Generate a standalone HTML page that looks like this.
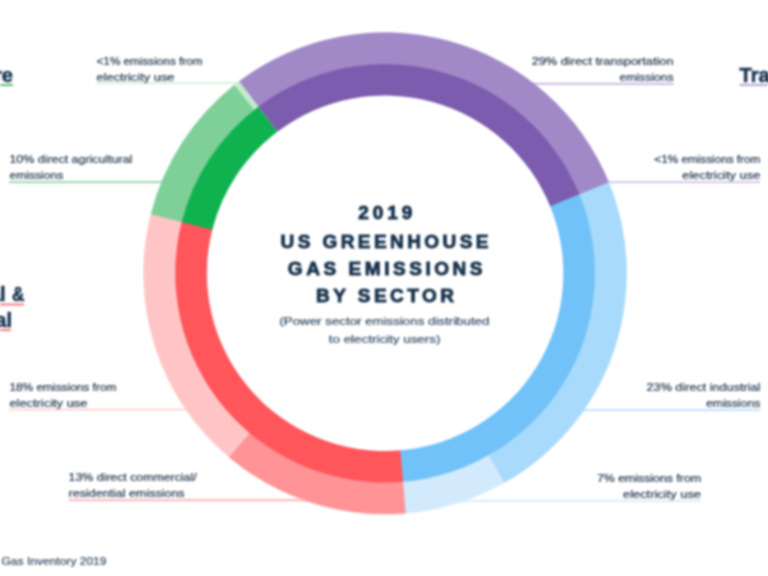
<!DOCTYPE html>
<html lang="en"><head><meta charset="utf-8"><title>2019 US Greenhouse Gas Emissions by Sector</title>
<style>
html,body{margin:0;padding:0;background:#fff;}
body{width:768px;height:576px;overflow:hidden;}
svg{display:block;font-family:"Liberation Sans",sans-serif;}
.b1{filter:blur(0.8px);}.b2{filter:blur(0.8px);}.b3{filter:blur(0.8px);}
</style></head><body>
<svg width="768" height="576" viewBox="0 0 768 576">
<rect width="768" height="576" fill="#fff"/>
<g id="leaders" class="b1">
<line x1="96" y1="83.2" x2="241" y2="83.2" stroke="#BFE8C8" stroke-width="1.2"/>
<line x1="9" y1="182.2" x2="164" y2="182.2" stroke="#5FC57F" stroke-width="1.2"/>
<line x1="531" y1="83.8" x2="673.5" y2="83.8" stroke="#CDBFE7" stroke-width="2.2"/>
<line x1="607" y1="182.2" x2="760.3" y2="182.2" stroke="#BBA9DD" stroke-width="1.2"/>
<line x1="581" y1="410" x2="760.3" y2="410" stroke="#BFE0FA" stroke-width="1.8"/>
<line x1="459" y1="500.8" x2="701" y2="500.8" stroke="#D3E9FB" stroke-width="1.8"/>
<line x1="9" y1="409.7" x2="189" y2="409.7" stroke="#FFBFC1" stroke-width="1.2"/>
<line x1="68.6" y1="500.1" x2="309" y2="500.1" stroke="#FF8A8D" stroke-width="1.2"/>
<line x1="0" y1="85" x2="13" y2="85" stroke="#3FBA66" stroke-width="1.8"/>
<line x1="739.6" y1="85" x2="768" y2="85" stroke="#B09BD6" stroke-width="1.8"/>
<line x1="0" y1="304.5" x2="24" y2="304.5" stroke="#FE6A6F" stroke-width="1.8"/>
<line x1="0" y1="330" x2="11" y2="330" stroke="#FE6A6F" stroke-width="1.8"/>
</g>
<g class="b2"><g id="donut" transform="translate(385.1 0) scale(1.003 1) translate(-385.1 0)">
<path d="M239.39 81.34A241.0 241.0 0 0 1 608.63 183.21L578.67 195.29A208.7 208.7 0 0 0 258.92 107.06Z" fill="#A189C8"/>
<path d="M608.23 182.24A241.0 241.0 0 0 1 503.22 483.37L487.39 455.21A208.7 208.7 0 0 0 578.33 194.44Z" fill="#A8DAFB"/>
<path d="M504.14 482.85A241.0 241.0 0 0 1 404.64 513.51L402.02 481.31A208.7 208.7 0 0 0 488.19 454.76Z" fill="#D2EAFC"/>
<path d="M405.69 513.42A241.0 241.0 0 0 1 228.74 456.69L249.70 432.11A208.7 208.7 0 0 0 402.93 481.24Z" fill="#FF9396"/>
<path d="M229.54 457.37A241.0 241.0 0 0 1 151.72 213.16L183.00 221.22A208.7 208.7 0 0 0 250.39 432.70Z" fill="#FFC5C6"/>
<path d="M151.46 214.18A241.0 241.0 0 0 1 235.57 84.30L255.61 109.63A208.7 208.7 0 0 0 182.78 222.10Z" fill="#7FCF98"/>
<path d="M234.75 84.95A241.0 241.0 0 0 1 239.39 81.34L258.92 107.06A208.7 208.7 0 0 0 254.90 110.20Z" fill="#C3ECCB"/>
<path d="M258.62 106.67A209.2 209.2 0 0 1 579.14 195.10L549.92 206.88A177.7 177.7 0 0 0 277.66 131.76Z" fill="#7C5CAE"/>
<path d="M578.79 194.26A209.2 209.2 0 0 1 402.06 481.81L399.51 450.42A177.7 177.7 0 0 0 549.63 206.16Z" fill="#70C2F8"/>
<path d="M402.97 481.74A209.2 209.2 0 0 1 182.52 221.10L213.02 228.96A177.7 177.7 0 0 0 400.28 450.35Z" fill="#FE565B"/>
<path d="M182.29 221.98A209.2 209.2 0 0 1 258.62 106.67L277.66 131.76A177.7 177.7 0 0 0 212.83 229.71Z" fill="#0FB24E"/>
</g></g>
<g id="labels" class="b3">
<text x="96.5" y="64.6" text-anchor="start" font-size="10" font-weight="normal" fill="#1B3148" textLength="106" lengthAdjust="spacingAndGlyphs" stroke="#1B3148" stroke-width="0.2">&lt;1% emissions from</text>
<text x="96.5" y="80.6" text-anchor="start" font-size="10" font-weight="normal" fill="#1B3148" textLength="78" lengthAdjust="spacingAndGlyphs" stroke="#1B3148" stroke-width="0.2">electricity use</text>
<text x="9.4" y="163.4" text-anchor="start" font-size="10" font-weight="normal" fill="#1B3148" textLength="123" lengthAdjust="spacingAndGlyphs" stroke="#1B3148" stroke-width="0.2">10% direct agricultural</text>
<text x="9.4" y="179.4" text-anchor="start" font-size="10" font-weight="normal" fill="#1B3148" textLength="54" lengthAdjust="spacingAndGlyphs" stroke="#1B3148" stroke-width="0.2">emissions</text>
<text x="673.5" y="65.3" text-anchor="end" font-size="10" font-weight="normal" fill="#1B3148" textLength="141.8" lengthAdjust="spacingAndGlyphs" stroke="#1B3148" stroke-width="0.2">29% direct transportation</text>
<text x="673.5" y="81.4" text-anchor="end" font-size="10" font-weight="normal" fill="#1B3148" textLength="54" lengthAdjust="spacingAndGlyphs" stroke="#1B3148" stroke-width="0.2">emissions</text>
<text x="760.3" y="163.2" text-anchor="end" font-size="10" font-weight="normal" fill="#1B3148" textLength="106" lengthAdjust="spacingAndGlyphs" stroke="#1B3148" stroke-width="0.2">&lt;1% emissions from</text>
<text x="760.3" y="179.4" text-anchor="end" font-size="10" font-weight="normal" fill="#1B3148" textLength="78" lengthAdjust="spacingAndGlyphs" stroke="#1B3148" stroke-width="0.2">electricity use</text>
<text x="760.3" y="390.5" text-anchor="end" font-size="10" font-weight="normal" fill="#1B3148" textLength="113.7" lengthAdjust="spacingAndGlyphs" stroke="#1B3148" stroke-width="0.2">23% direct industrial</text>
<text x="760.3" y="406.9" text-anchor="end" font-size="10" font-weight="normal" fill="#1B3148" textLength="54" lengthAdjust="spacingAndGlyphs" stroke="#1B3148" stroke-width="0.2">emissions</text>
<text x="701" y="481.5" text-anchor="end" font-size="10" font-weight="normal" fill="#1B3148" textLength="104" lengthAdjust="spacingAndGlyphs" stroke="#1B3148" stroke-width="0.2">7% emissions from</text>
<text x="701" y="498" text-anchor="end" font-size="10" font-weight="normal" fill="#1B3148" textLength="78" lengthAdjust="spacingAndGlyphs" stroke="#1B3148" stroke-width="0.2">electricity use</text>
<text x="9.4" y="390.5" text-anchor="start" font-size="10" font-weight="normal" fill="#1B3148" textLength="107" lengthAdjust="spacingAndGlyphs" stroke="#1B3148" stroke-width="0.2">18% emissions from</text>
<text x="9.4" y="406.5" text-anchor="start" font-size="10" font-weight="normal" fill="#1B3148" textLength="78" lengthAdjust="spacingAndGlyphs" stroke="#1B3148" stroke-width="0.2">electricity use</text>
<text x="68.6" y="481.2" text-anchor="start" font-size="10" font-weight="normal" fill="#1B3148" textLength="128" lengthAdjust="spacingAndGlyphs" stroke="#1B3148" stroke-width="0.2">13% direct commercial/</text>
<text x="68.6" y="497.4" text-anchor="start" font-size="10" font-weight="normal" fill="#1B3148" textLength="116" lengthAdjust="spacingAndGlyphs" stroke="#1B3148" stroke-width="0.2">residential emissions</text>
<text x="-2" y="564.7" text-anchor="end" font-size="10.5" font-weight="normal" fill="#2F4A63" stroke="#2F4A63" stroke-width="0.2">Source: EPA Greenhouse</text>
<text x="1.5" y="564.7" text-anchor="start" font-size="10.5" font-weight="normal" fill="#2F4A63" textLength="105" lengthAdjust="spacingAndGlyphs" stroke="#2F4A63" stroke-width="0.2">Gas Inventory 2019</text>
<text x="13" y="81.7" text-anchor="end" font-size="20" font-weight="bold" fill="#17334D" stroke="#17334D" stroke-width="0.6">Agriculture</text>
<text x="739.6" y="81.7" text-anchor="start" font-size="20" font-weight="bold" fill="#17334D" stroke="#17334D" stroke-width="0.6">Transportation</text>
<text x="5.6" y="301.3" text-anchor="end" font-size="20" font-weight="bold" fill="#17334D" stroke="#17334D" stroke-width="0.6">Commercial</text>
<text x="12" y="301.3" text-anchor="start" font-size="20" font-weight="bold" fill="#17334D" textLength="12.4" lengthAdjust="spacingAndGlyphs" stroke="#17334D" stroke-width="0.6">&amp;</text>
<text x="12" y="326.6" text-anchor="end" font-size="20" font-weight="bold" fill="#17334D" stroke="#17334D" stroke-width="0.6">Residential</text>
<text x="385.3" y="218.8" text-anchor="middle" font-size="19" font-weight="bold" fill="#17324C" textLength="54" lengthAdjust="spacing" stroke="#17324C" stroke-width="0.9">2019</text>
<text x="384.5" y="247.5" text-anchor="middle" font-size="19" font-weight="bold" fill="#17324C" textLength="208" lengthAdjust="spacing" stroke="#17324C" stroke-width="0.9">US GREENHOUSE</text>
<text x="385.2" y="274.6" text-anchor="middle" font-size="19" font-weight="bold" fill="#17324C" textLength="194.7" lengthAdjust="spacing" stroke="#17324C" stroke-width="0.9">GAS EMISSIONS</text>
<text x="385" y="302.4" text-anchor="middle" font-size="19" font-weight="bold" fill="#17324C" textLength="138" lengthAdjust="spacing" stroke="#17324C" stroke-width="0.9">BY SECTOR</text>
<text x="384.4" y="325.4" text-anchor="middle" font-size="10.5" font-weight="normal" fill="#2F4A63" textLength="210" lengthAdjust="spacingAndGlyphs" stroke="#2F4A63" stroke-width="0.2">(Power sector emissions distributed</text>
<text x="384.6" y="343" text-anchor="middle" font-size="10.5" font-weight="normal" fill="#2F4A63" textLength="111.7" lengthAdjust="spacingAndGlyphs" stroke="#2F4A63" stroke-width="0.2">to electricity users)</text>
</g>
</svg>
</body></html>
